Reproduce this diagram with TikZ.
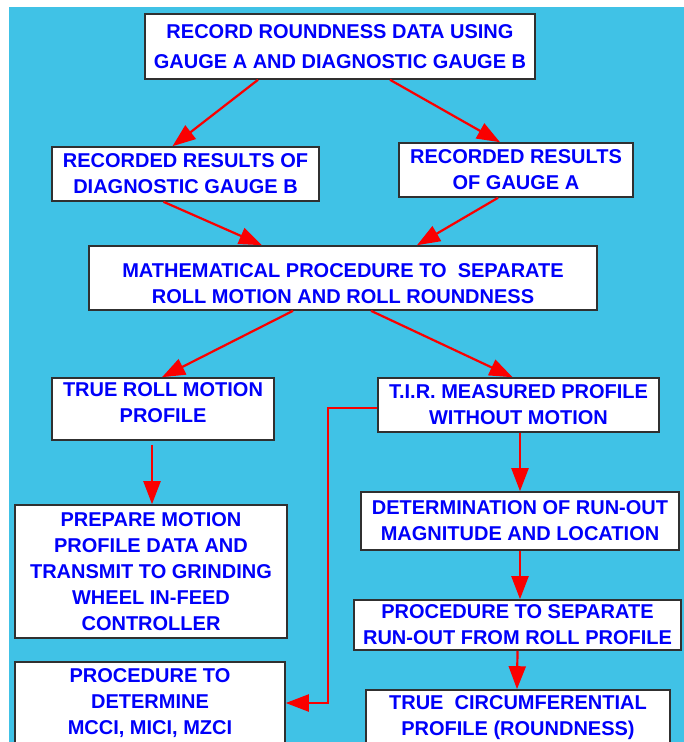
\documentclass[tikz,border=0pt]{standalone}
\usepackage{fontspec}
\setmainfont{Liberation Sans}
\usetikzlibrary{arrows.meta}
\definecolor{skyback}{RGB}{64,194,230}
\definecolor{boxline}{RGB}{48,48,48}
\definecolor{textblue}{RGB}{0,0,250}
\definecolor{flowred}{RGB}{250,0,0}

\begin{document}
\begin{tikzpicture}[x=1pt,y=-1pt,
  box/.style={draw=boxline, line width=1.6pt, fill=white, align=center, inner sep=0pt,
    text=textblue, font=\fontsize{20}{26}\selectfont\bfseries},
  flow/.style={draw=flowred, line width=2.2pt, -{Triangle[length=23pt,width=17pt]}}]

% Page and background
\useasboundingbox (0,0) rectangle (684,742);
\clip (0,0) rectangle (684,742);
\fill[white] (0,0) rectangle (684,742);
\fill[skyback] (9,7) rectangle (684,742);

% Top row
\node[box, minimum width=390pt, minimum height=65pt] (record) at (340,46.5)
  {RECORD ROUNDNESS DATA USING\\[4pt]GAUGE A AND DIAGNOSTIC GAUGE B};
\node[box, minimum width=267pt, minimum height=54pt] (diagb) at (185.5,174)
  {RECORDED RESULTS OF\\DIAGNOSTIC GAUGE B};
\node[box, minimum width=234pt, minimum height=54pt] (gaugea) at (516,170)
  {RECORDED RESULTS\\OF GAUGE A};
\node[box, minimum width=508pt, minimum height=64pt] (math) at (343,278)
  {\rule{0pt}{25pt}MATHEMATICAL PROCEDURE TO\ \ SEPARATE\\ROLL MOTION AND ROLL ROUNDNESS};

% Left branch
\node[box, minimum width=222pt, minimum height=62pt] (motion) at (163,409)
  {TRUE ROLL MOTION\\PROFILE\rule[-12pt]{0pt}{12pt}};
\node[box, minimum width=272pt, minimum height=133pt] (prepare) at (151,571.5)
  {PREPARE MOTION\\PROFILE DATA AND\\TRANSMIT TO GRINDING\\WHEEL IN-FEED\\CONTROLLER};
\node[box, minimum width=270pt, minimum height=82pt] (mcci) at (150,703)
  {PROCEDURE TO\\DETERMINE\\MCCI, MICI, MZCI};

% Right branch
\node[box, minimum width=281pt, minimum height=54pt] (tir) at (518.5,405)
  {T.I.R. MEASURED PROFILE\\WITHOUT MOTION};
\node[box, minimum width=318pt, minimum height=58pt] (runout) at (520,521)
  {DETERMINATION OF RUN-OUT\\MAGNITUDE AND LOCATION};
\node[box, minimum width=327pt, minimum height=50pt] (separate) at (517.5,625)
  {PROCEDURE TO SEPARATE\\RUN-OUT FROM ROLL PROFILE};
\node[box, minimum width=304pt, minimum height=56pt] (circ) at (518,718)
  {TRUE\ \ CIRCUMFERENTIAL\\PROFILE (ROUNDNESS)};

% Arrows
\draw[flow] ([xshift=-82pt]record.south) -- ([xshift=-13pt]diagb.north);
\draw[flow] ([xshift=50pt]record.south) -- ([xshift=-16pt]gaugea.north);
\draw[flow] ([xshift=-22pt]diagb.south) -- ([xshift=-81pt]math.north);
\draw[flow] ([xshift=-18pt]gaugea.south) -- ([xshift=74pt]math.north);
\draw[flow] ([xshift=-50pt]math.south) -- ([xshift=-1pt]motion.north);
\draw[flow] ([xshift=28pt]math.south) -- ([xshift=-6pt]tir.north);
\draw[flow] ([xshift=-11pt,yshift=-4pt]motion.south) -- ([xshift=1pt]prepare.north);
\draw[flow] ([xshift=1.5pt]tir.south) -- (runout.north);
\draw[flow] (runout.south) -- ([xshift=2.5pt]separate.north);
\draw[flow] (separate.south) -- ([xshift=-1pt]circ.north);
\draw[flow] ([yshift=-3pt]tir.west) -- ++(-49,0) |- (mcci.east);

\end{tikzpicture}
\end{document}
